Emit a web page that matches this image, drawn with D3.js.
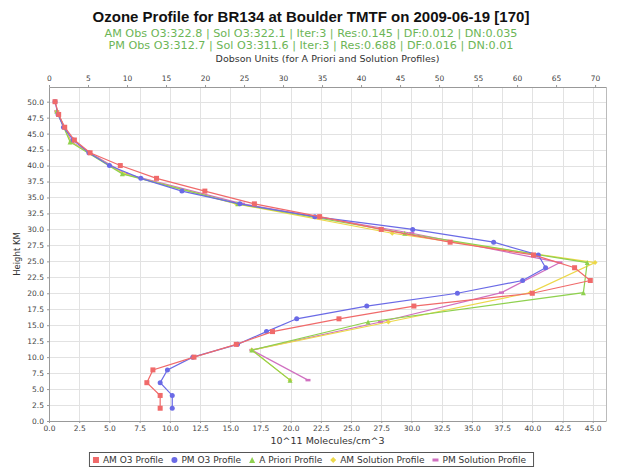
<!DOCTYPE html>
<html>
<head>
<meta charset="utf-8">
<script src="https://cdn.jsdelivr.net/npm/d3@7/dist/d3.min.js"></script>
<style>
  body { margin: 0; background: #fff; }
  text { font-family: "DejaVu Sans", sans-serif; }
  text.chart-title { font-family: "Liberation Sans", Arial, sans-serif; }
</style>
</head>
<body>
<svg id="chart" width="618" height="468"></svg>
<script>
// Measured ozone profiles: altitude (km) and number density (10^11 molecules/cm^3)
const profileHeights = [2, 4, 6, 8, 10, 12, 14, 16, 18, 20, 22, 24, 26, 28, 30, 32, 34, 36, 38, 40, 42, 44, 46, 48, 50];
const amO3 = [9.2, 9.2, 8.1, 8.6, 12.0, 15.5, 18.5, 24.0, 30.2, 40.0, 44.8, 43.5, 40.1, 33.2, 27.5, 22.4, 17.0, 12.9, 8.9, 5.9, 3.4, 2.1, 1.3, 0.8, 0.5];
const pmO3 = [10.2, 10.2, 9.2, 9.8, 11.9, 15.6, 18.0, 20.5, 26.3, 33.8, 39.2, 41.1, 40.5, 36.8, 30.1, 22.0, 15.8, 11.0, 7.6, 5.0, 3.3, 2.0, 1.2, 0.75, 0.5];

// Umkehr layer profiles: layer altitude (km) and ozone amount (DU)
const layerHeights = [6.4, 11.1, 15.5, 20.1, 24.8, 29.4, 34.0, 38.7, 43.7, 48.5];
const aPriori = [30.9, 26.0, 40.9, 68.5, 69.0, 45.6, 24.2, 9.4, 2.7, 1.0];
const amSolution = [30.9, 26.0, 43.5, 61.7, 70.0, 44.0, 24.0, 9.6, 2.8, 1.0];
const pmSolution = [33.2, 26.0, 42.5, 58.0, 65.5, 46.5, 24.8, 9.8, 2.9, 1.0];

// Axis ticks
const heightTicks = [0, 2.5, 5, 7.5, 10, 12.5, 15, 17.5, 20, 22.5, 25, 27.5, 30, 32.5, 35, 37.5, 40, 42.5, 45, 47.5, 50];
const densityTicks = [0, 2.5, 5, 7.5, 10, 12.5, 15, 17.5, 20, 22.5, 25, 27.5, 30, 32.5, 35, 37.5, 40, 42.5, 45];
const duTicks = [0, 5, 10, 15, 20, 25, 30, 35, 40, 45, 50, 55, 60, 65, 70];

const title = "Ozone Profile for BR134 at Boulder TMTF on 2009-06-19 [170]";
const subtitles = [
  "AM Obs O3:322.8 | Sol O3:322.1 | Iter:3 | Res:0.145 | DF:0.012 | DN:0.035",
  "PM Obs O3:312.7 | Sol O3:311.6 | Iter:3 | Res:0.688 | DF:0.016 | DN:0.01"
];

const series = [
  { name: "AM O3 Profile", x: amO3, y: profileHeights, axis: "bottom", color: "#f06a6a", shape: "square" },
  { name: "PM O3 Profile", x: pmO3, y: profileHeights, axis: "bottom", color: "#6a6ae6", shape: "circle" },
  { name: "A Priori Profile", x: aPriori, y: layerHeights, axis: "top", color: "#8fd14f", shape: "triangle" },
  { name: "AM Solution Profile", x: amSolution, y: layerHeights, axis: "top", color: "#ecd84a", shape: "diamond" },
  { name: "PM Solution Profile", x: pmSolution, y: layerHeights, axis: "top", color: "#d070c0", shape: "rect" }
];

const svg = d3.select("#chart");
const plot = { left: 49, right: 606, top: 87, bottom: 421 };
const centerX = 311;
const plotCenterX = (plot.left + plot.right) / 2;

const y = d3.scaleLinear().domain([0, 52.3]).range([plot.bottom, plot.top]);
const xDensity = d3.scaleLinear().domain([0, 46.1]).range([plot.left, plot.right]);
const xDU = d3.scaleLinear().domain([0, 71.4]).range([plot.left, plot.right]);

// Titles
svg.append("text").attr("class", "chart-title").attr("x", centerX).attr("y", 22).attr("text-anchor", "middle")
  .attr("font-size", 15).attr("font-weight", "bold").attr("fill", "#111").text(title);
subtitles.forEach((s, i) => {
  svg.append("text").attr("x", centerX).attr("y", 37 + i * 12).attr("text-anchor", "middle")
    .attr("font-size", 11.2).attr("fill", "#6cb556").text(s);
});

// Plot grid
const grid = svg.append("g").attr("stroke", "#e2e2e2").attr("stroke-width", 1);
grid.selectAll(".gx").data(densityTicks).join("line")
  .attr("x1", d => Math.round(xDensity(d)) + 0.5).attr("x2", d => Math.round(xDensity(d)) + 0.5)
  .attr("y1", plot.top).attr("y2", plot.bottom);
grid.selectAll(".gy").data(heightTicks).join("line")
  .attr("y1", d => Math.round(y(d)) + 0.5).attr("y2", d => Math.round(y(d)) + 0.5)
  .attr("x1", plot.left).attr("x2", plot.right);

// Axes
function styleAxis(g) {
  g.selectAll("path.domain").attr("stroke", "#999");
  g.selectAll(".tick line").attr("stroke", "#999");
  g.selectAll(".tick text").attr("fill", "#444").attr("font-size", 7.5);
}

svg.append("g").attr("transform", `translate(${plot.left},0)`)
  .call(d3.axisLeft(y).tickValues(heightTicks).tickFormat(d3.format(".1f")).tickSize(2).tickSizeOuter(0).tickPadding(3))
  .call(styleAxis);

svg.append("g").attr("transform", `translate(0,${plot.bottom})`)
  .call(d3.axisBottom(xDensity).tickValues(densityTicks).tickFormat(d3.format(".1f")).tickSize(2).tickSizeOuter(0).tickPadding(3))
  .call(styleAxis);

svg.append("g").attr("transform", `translate(0,${plot.top})`)
  .call(d3.axisTop(xDU).tickValues(duTicks).tickFormat(d3.format("d")).tickSize(2).tickSizeOuter(0).tickPadding(4))
  .call(styleAxis);

// Right edge of the plot frame
svg.append("line").attr("x1", plot.right + 0.5).attr("x2", plot.right + 0.5)
  .attr("y1", plot.top).attr("y2", plot.bottom).attr("stroke", "#bbb");

// Axis labels
svg.append("text").attr("x", plotCenterX).attr("y", 62).attr("text-anchor", "middle")
  .attr("font-size", 9.5).attr("fill", "#333").text("Dobson Units (for A Priori and Solution Profiles)");
svg.append("text").attr("x", plotCenterX).attr("y", 444).attr("text-anchor", "middle")
  .attr("font-size", 9.5).attr("fill", "#333").text("10^11 Molecules/cm^3");
svg.append("text").attr("transform", `translate(20,${(plot.top + plot.bottom) / 2}) rotate(-90)`)
  .attr("text-anchor", "middle").attr("font-size", 8.5).attr("fill", "#333").text("Height KM");

// Marker shapes
function marker(sel, shape, color, size) {
  const s = size || 5;
  if (shape === "square") {
    sel.append("rect").attr("x", -s / 2).attr("y", -s / 2).attr("width", s).attr("height", s).attr("fill", color);
  } else if (shape === "circle") {
    sel.append("circle").attr("r", s / 2).attr("fill", color);
  } else if (shape === "triangle") {
    sel.append("path").attr("d", `M0,${-s / 2}L${s / 2},${s / 2}L${-s / 2},${s / 2}Z`).attr("fill", color);
  } else if (shape === "diamond") {
    sel.append("path").attr("d", `M0,${-s / 2}L${s / 2},0L0,${s / 2}L${-s / 2},0Z`).attr("fill", color);
  } else {
    sel.append("rect").attr("x", -s / 2).attr("y", -s / 4).attr("width", s).attr("height", s / 2).attr("fill", color);
  }
}

// Series lines and markers (layer profiles first, measured profiles on top)
const drawOrder = [4, 3, 2, 1, 0];
const plotG = svg.append("g");
drawOrder.forEach(i => {
  const s = series[i];
  const xs = s.axis === "bottom" ? xDensity : xDU;
  const pts = s.x.map((v, k) => [xs(v), y(s.y[k])]);
  plotG.append("path").datum(pts)
    .attr("d", d3.line())
    .attr("fill", "none").attr("stroke", s.color).attr("stroke-width", 1.2);
  pts.forEach(p => {
    const g = plotG.append("g").attr("transform", `translate(${p[0]},${p[1]})`);
    marker(g, s.shape, s.color, 5);
  });
});

// Legend
const legend = svg.append("g");
const legendY = 460;
let lx = 0;
series.forEach(s => {
  const g = legend.append("g").attr("transform", `translate(${lx},${legendY})`);
  marker(g, s.shape, s.color, 6);
  const t = g.append("text").attr("x", 7).attr("y", 3.2).attr("font-size", 9).attr("fill", "#333").text(s.name);
  lx += 7 + t.node().getComputedTextLength() + 11;
});
const legendWidth = lx - 11 + 14;
legend.attr("transform", `translate(${centerX - legendWidth / 2 + 7},0)`);
legend.insert("rect", ":first-child")
  .attr("x", -7 + 0.5).attr("y", legendY - 7.5)
  .attr("width", legendWidth).attr("height", 14)
  .attr("fill", "none").attr("stroke", "#555").attr("stroke-width", 1);
</script>
</body>
</html>
